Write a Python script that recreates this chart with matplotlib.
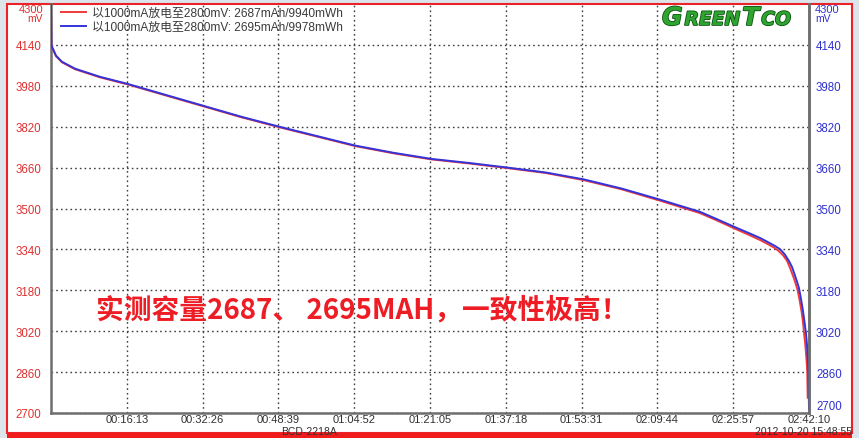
import matplotlib
matplotlib.use("Agg")
import matplotlib.pyplot as plt
from matplotlib.patches import Rectangle
from matplotlib.ticker import FixedLocator, FuncFormatter
import matplotlib.patheffects as pe

plt.rcParams['font.family'] = ['Liberation Sans', 'Noto Sans CJK SC', 'DejaVu Sans']

# ---- data ----
red_t = [0, 5, 26, 64, 141, 308, 630, 977, 1465, 1954, 2442, 2930, 3419, 3907, 4395,
         4884, 5372, 5861, 6349, 6838, 7326, 7814, 8331, 8550, 8780, 8950, 9100, 9200,
         9280, 9336, 9400, 9450, 9486, 9530, 9560, 9584, 9610, 9636, 9655, 9666, 9680,
         9691, 9700, 9708, 9713]
red_mv = [4300, 4135, 4122, 4096, 4072, 4045, 4013, 3986, 3943, 3900, 3857, 3818, 3781,
          3744, 3716, 3692, 3676, 3658, 3639, 3611, 3575, 3531, 3482, 3453, 3421, 3398,
          3377, 3361, 3347, 3335, 3316, 3294, 3268, 3232, 3205, 3180, 3140, 3094, 3050,
          3013, 2975, 2937, 2900, 2859, 2760]
blue_t = [0, 5, 26, 64, 141, 308, 630, 977, 1465, 1954, 2442, 2930, 3419, 3907, 4395,
          4884, 5372, 5861, 6349, 6838, 7326, 7814, 8331, 8550, 8780, 8950, 9100, 9200,
          9290, 9358, 9420, 9470, 9511, 9550, 9580, 9601, 9628, 9653, 9675, 9691, 9702,
          9711, 9718, 9723, 9730]
blue_mv = [4300, 4138, 4124, 4098, 4074, 4047, 4015, 3988, 3945, 3902, 3859, 3820, 3783,
           3746, 3718, 3694, 3678, 3660, 3641, 3614, 3578, 3535, 3487, 3458, 3427, 3405,
           3385, 3369, 3354, 3341, 3320, 3296, 3272, 3238, 3210, 3189, 3145, 3099, 3050,
           3013, 2975, 2931, 2890, 2853, 2716]
series_labels = ["以1000mA放电至2800mV: 2687mAh/9940mWh",
                 "以1000mA放电至2800mV: 2695mAh/9978mWh"]
y_ticks = [2700, 2860, 3020, 3180, 3340, 3500, 3660, 3820, 3980, 4140, 4300]
x_step = 973
x_max = 9730
headline = "实测容量2687、 2695MAH，一致性极高！"
device = "BCD-2218A"
stamp = "2012-10-20 15:48:55"
logo_parts = [("G", 18), ("REEN", 13.5), ("T", 18), ("CO", 13.5)]

W, H = 859, 439
fig = plt.figure(figsize=(W / 100, H / 100), dpi=100)
fig.patch.set_facecolor('#dde4ea')

def fx(px):
    return px / W

def fy(py):
    return 1 - py / H

# outer white panel with red frame
fig.patches.append(Rectangle((fx(7), fy(434)), fx(845), (429) / H, transform=fig.transFigure,
                             facecolor='white', edgecolor='#e8242a', linewidth=1.5, zorder=-2))
fig.patches.append(Rectangle((fx(7), 0), fx(845), fy(434), transform=fig.transFigure,
                             facecolor='#f01c1c', edgecolor='none', zorder=-2))

ax = fig.add_axes([fx(51), fy(414), fx(809 - 51), (414 - 5) / H])
ax.set_zorder(1)
ax.set_facecolor('none')
ax.set_xlim(0, x_max)
ax.set_ylim(y_ticks[0], y_ticks[-1])

ax.plot(red_t, red_mv, color='#f03a3a', lw=1.4, zorder=3)
ax.plot(blue_t, blue_mv, color='#3434d8', lw=1.4, zorder=4)

ax.spines['top'].set_visible(False)
for s in ['left', 'right', 'bottom']:
    ax.spines[s].set_color('#6e6e6e')
    ax.spines[s].set_linewidth(1.8)

xt = [x_step * k for k in range(1, 11)]
ax.xaxis.set_major_locator(FixedLocator(xt))

def tfmt(v, pos):
    v = int(round(v))
    return f"{v // 3600:02d}:{(v % 3600) // 60:02d}:{v % 60:02d}"

ax.xaxis.set_major_formatter(FuncFormatter(tfmt))
ax.tick_params(axis='x', length=0, pad=1, labelsize=8, labelcolor='#303030')
ax.yaxis.set_major_locator(FixedLocator(y_ticks[:-1]))
ax.tick_params(axis='y', length=0, pad=7, labelsize=8.3, labelcolor='#e03030')
ax.grid(True, color='#404040', linestyle=(0, (1.2, 2.2)), linewidth=1.0)

ax2 = ax.twinx()
ax2.set_zorder(1)
ax2.set_ylim(y_ticks[0], y_ticks[-1])
ax2.yaxis.set_major_locator(FixedLocator(y_ticks[1:-1]))
ax2.tick_params(axis='y', length=0, pad=5, labelsize=8.3, labelcolor='#3030d0')
for s in ['top', 'left', 'bottom']:
    ax2.spines[s].set_visible(False)
ax2.spines['right'].set_color('#6e6e6e')
ax2.spines['right'].set_linewidth(1.8)

# axis unit labels
fig.text(fx(43), fy(10), f"{y_ticks[-1]}", color='#e03030', fontsize=8, ha='right', va='center')
fig.text(fx(43), fy(19), "mV", color='#e03030', fontsize=7.5, ha='right', va='center')
fig.text(fx(815), fy(10), f"{y_ticks[-1]}", color='#3030d0', fontsize=8, ha='left', va='center')
fig.text(fx(815), fy(19), "mV", color='#3030d0', fontsize=7.5, ha='left', va='center')
fig.text(fx(816), fy(407), f"{y_ticks[0]}", color='#3030d0', fontsize=8.3, ha='left', va='center')

fig.text(fx(309), fy(432), device, color='#303030', fontsize=7.5, ha='center', va='center')
fig.text(fx(852), fy(432.5), stamp, color='#303030', fontsize=7.5, ha='right', va='center')

# legend
leg = ax.legend(series_labels, loc='upper left', bbox_to_anchor=(0.004, 1.01), frameon=False,
                handlelength=2.1, handletextpad=0.45, labelspacing=0.15,
                borderaxespad=0.2, prop={'family': ['Liberation Sans', 'Noto Sans CJK SC'], 'size': 8.6})
for txt in leg.get_texts():
    txt.set_color('#3a3a3a')

# logo (built from pieces, small caps style)
fig.canvas.draw()
renderer = fig.canvas.get_renderer()
x_cursor = 662
for part, size in logo_parts:
    t = fig.text(fx(x_cursor), fy(26), part, color='#2da52f', fontsize=size, fontweight='bold',
                 fontstyle='italic', ha='left', va='baseline', family='DejaVu Sans',
                 path_effects=[pe.withStroke(linewidth=1.2, foreground='#0e5212')])
    bb = t.get_window_extent(renderer)
    x_cursor += bb.width + 2

# headline
fig.text(fx(362), fy(310), headline, color='#ee1c24', fontsize=20, fontweight='bold',
         ha='center', va='center', family=['Noto Sans CJK SC', 'DejaVu Sans'])

fig.savefig('out.png', dpi=100, facecolor=fig.get_facecolor())
